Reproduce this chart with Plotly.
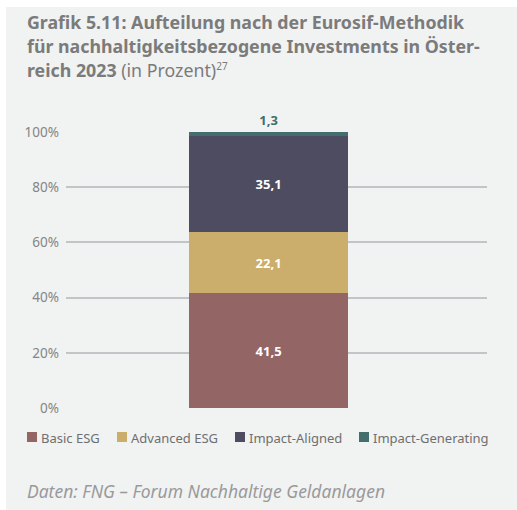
import plotly.graph_objects as go

# Eurosif-Methodik, Österreich 2023 (in Prozent)
year = ["2023"]
series = ["Basic ESG", "Advanced ESG", "Impact-Aligned", "Impact-Generating"]
values = [41.5, 22.1, 35.1, 1.3]
colors = ["#936565", "#cbad6c", "#4e4c60", "#436e6d"]
tick_vals = [0, 20, 40, 60, 80, 100]
tick_text = ["0%", "20%", "40%", "60%", "80%", "100%"]

FONT = "Noto Sans"
BG = "#f1f2f2"

# plot area in pixels: x 66..487, y 132..408
L, R, T, B = 66, 30, 132, 102
PW, PH = 517 - L - R, 510 - T - B


def px_x(p):
    return (p - L) / PW


def px_y(p):
    return (510 - B - p) / PH


fig = go.Figure()
for i, (name, v, c) in enumerate(zip(series, values, colors)):
    label = f"{v:.1f}".replace(".", ",")
    last = i == len(series) - 1
    fig.add_trace(go.Bar(
        x=year, y=[v], name=name, marker_color=c, marker_line_width=0,
        width=0.8, showlegend=False,
        text=[f"<b>{label}</b>"],
        textposition="outside" if last else "inside",
        insidetextanchor="middle",
        textangle=0,
        constraintext="none",
        cliponaxis=False,
        textfont=dict(family=FONT, size=13, color=c if last else "white"),
    ))

# title lines
title_lines = [
    "<b>Grafik 5.11: Aufteilung nach der Eurosif-Methodik</b>",
    "<b>für nachhaltigkeitsbezogene Investments in Öster-</b>",
    "<b>reich 2023</b> (in Prozent)<sup><span style='font-size:10px'>27</span></sup>",
]
ann = []
shapes = []
for k, t in enumerate(title_lines):
    ann.append(dict(text=t, xref="paper", yref="paper",
                    x=px_x(25), y=px_y(22 + 24 * k),
                    xanchor="left", yanchor="middle", showarrow=False,
                    font=dict(family=FONT, size=17.8, color="#7b7b7b")))
ann.append(dict(text="<i>Daten: FNG – Forum Nachhaltige Geldanlagen</i>",
                xref="paper", yref="paper",
                x=px_x(25), y=px_y(491),
                xanchor="left", yanchor="middle", showarrow=False,
                font=dict(family=FONT, size=17.5, color="#9a9a9a")))

# legend drawn by hand: square + label
legend_x = [27, 117, 235, 359]
for name, c, lx in zip(series, colors, legend_x):
    shapes.append(dict(type="rect", xref="paper", yref="paper",
                       x0=px_x(lx), x1=px_x(lx + 10),
                       y0=px_y(442), y1=px_y(432),
                       fillcolor=c, line_width=0))
    ann.append(dict(text=name, xref="paper", yref="paper",
                    x=px_x(lx + 12), y=px_y(437.5),
                    xanchor="left", yanchor="middle", showarrow=False,
                    font=dict(family=FONT, size=13, color="#6f6f6f")))

# white frame strips on the left and top edge
shapes += [
    dict(type="rect", xref="paper", yref="paper", layer="below",
         x0=px_x(0), x1=px_x(6), y0=px_y(510), y1=px_y(0),
         fillcolor="white", line_width=0),
    dict(type="rect", xref="paper", yref="paper", layer="below",
         x0=px_x(0), x1=px_x(517), y0=px_y(7), y1=px_y(0),
         fillcolor="white", line_width=0),
]

fig.update_layout(
    width=517, height=510,
    margin=dict(l=L, r=R, t=T, b=B, autoexpand=False),
    paper_bgcolor=BG, plot_bgcolor=BG,
    barmode="stack",
    showlegend=False,
    annotations=ann,
    shapes=shapes,
)
fig.update_xaxes(range=[-1.019, 1.099], showticklabels=False, showgrid=False,
                 zeroline=False, showline=False, fixedrange=True)
fig.update_yaxes(range=[0, 100], tickvals=tick_vals, ticktext=tick_text,
                 showgrid=True, gridcolor="#c4c4c8", gridwidth=1.5,
                 zeroline=False, showline=False, ticks="", ticklabelstandoff=6,
                 tickfont=dict(family=FONT, size=13.5, color="#858585"))

fig.write_html("out.html", config={"displayModeBar": False},
               post_script="document.body.style.margin='0';")
